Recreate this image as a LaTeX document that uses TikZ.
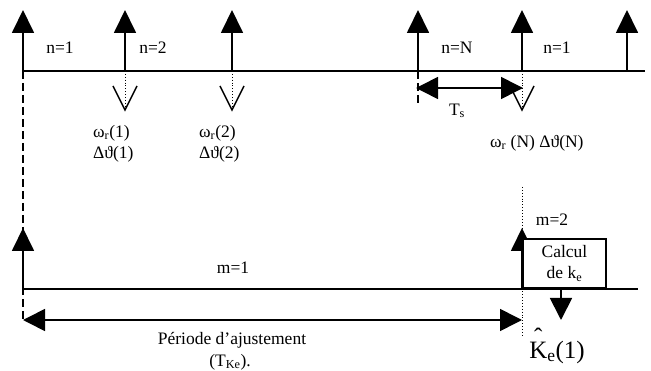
\documentclass[tikz,border=0pt]{standalone}
\usepackage{fontspec}
\setmainfont{Liberation Serif}
\usetikzlibrary{arrows.meta}
\begin{document}
\begin{tikzpicture}[x=1pt,y=-1pt,
  lbl/.style={inner sep=0pt, font=\fontsize{17.5}{20}\selectfont},
  axis/.style={line width=1.6pt},
  heavy/.style={line width=2.8pt},
  tickup/.style={line width=1.8pt,-{Triangle[length=23pt,width=22pt]}},
  tickdown/.style={line width=1.8pt,-{Triangle[length=22pt,width=22pt]}},
  span/.style={line width=1.6pt,{Triangle[length=22pt,width=22pt]}-{Triangle[length=22pt,width=22pt]}},
  sampl/.style={line width=0.9pt,dotted},
  guide/.style={line width=1.3pt,dash pattern=on 8pt off 4pt},
  vee/.style={line width=1.5pt},
  calcbox/.style={draw,line width=1.8pt,fill=white,minimum width=83pt,minimum height=49pt,inner sep=0pt,
     align=center,font=\fontsize{17.5}{21}\selectfont}
]
\useasboundingbox (0,0) rectangle (651,371);

% ---- sampling axis (n) ----
\coordinate (tl) at (22,71);
\coordinate (tr) at (645,71);
\draw[axis] (tl) -- (tr);
\draw[heavy] (472,71) -- (522,71);
\draw[heavy] (593,71) -- (608,71);

\foreach \name/\xx in {s1/23,s2/125,s3/232,s4/418,s5/522,s6/627}{
  \coordinate (\name b) at (\xx,71);
  \coordinate (\name t) at (\xx,10);
  \draw[tickup] (\name b) -- (\name t);
}

% measured quantities (dotted, open heads)
\foreach \name/\xx in {s2/125,s3/232,s5/522}{
  \coordinate (\name v) at (\xx,110);
  \draw[sampl] (\name b) -- (\name v);
  \draw[vee] (\xx-12,86) -- (\name v) -- (\xx+12,86);
}

% sampling period
\coordinate (tsl) at (416,88);
\coordinate (tsr) at (523,88);
\coordinate (s4d) at (418,103);
\draw[guide] (s4b) -- (s4d);
\draw[span] (tsl) -- (tsr);
\node[lbl] (ts) at (457,111) {T\textsubscript{s}};

\node[lbl] (n1) at (60,48) {n=1};
\node[lbl] (n2) at (153,48) {n=2};
\node[lbl] (nN) at (457,48) {n=N};
\node[lbl] (n1b) at (557,48) {n=1};

\node[lbl,anchor=west] (w1) at (93,133) {ω\textsubscript{r}(1)};
\node[lbl,anchor=west] (d1) at (93,154) {Δϑ(1)};
\node[lbl,anchor=west] (w2) at (199,133) {ω\textsubscript{r}(2)};
\node[lbl,anchor=west] (d2) at (199,154) {Δϑ(2)};
\node[lbl,anchor=west] (wN) at (490,143) {ω\textsubscript{r} (N) Δϑ(N)};

% ---- adjustment axis (m) ----
\coordinate (bl) at (22,289);
\coordinate (br) at (638,289);
\coordinate (dl) at (23,320);
\coordinate (dr) at (522,320);
\coordinate (gtop) at (522,187);
\coordinate (gbot) at (522,337);
\draw[guide] (s1b) -- (dl);
\draw[sampl] (gtop) -- (gbot);
\draw[axis] (bl) -- (br);
\coordinate (m1b) at (23,289);
\coordinate (m1t) at (23,228);
\coordinate (m2b) at (522,289);
\coordinate (m2t) at (522,228);
\draw[tickup] (m1b) -- (m1t);
\draw[tickup] (m2b) -- (m2t);

\node[calcbox] (calc) at (564.5,263.5) {Calcul\\de k\textsubscript{e}};
\coordinate (ko) at (561,320);
\draw[tickdown] (calc.south -| ko) -- (ko);

\draw[span] (dl) -- (dr);

\node[lbl] (m1) at (233,268) {m=1};
\node[lbl] (m2) at (552,220) {m=2};
\node[lbl] (per) at (232,340) {Période d’ajustement};
\node[lbl] (tke) at (230,362) {(T\textsubscript{Ke}).};
\node[inner sep=0pt,font=\fontsize{25}{28}\selectfont] (ke) at (557,352)
  {\ooalign{K\cr\hidewidth\raisebox{0.5em}{ˆ}\hidewidth\cr}\textsubscript{e}(1)};
\end{tikzpicture}
\end{document}
